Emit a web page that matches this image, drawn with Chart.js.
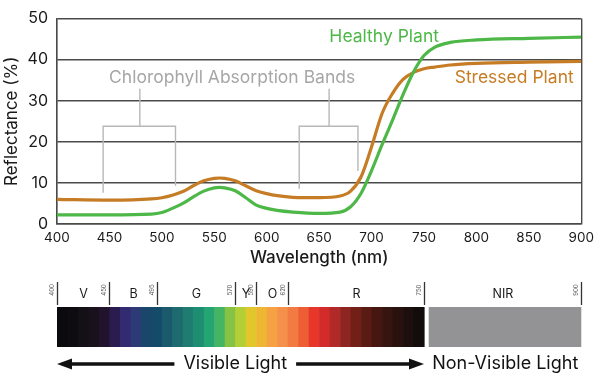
<!DOCTYPE html>
<html>
<head>
<meta charset="utf-8">
<script src="https://cdn.jsdelivr.net/npm/chart.js@4.4.1/dist/chart.umd.min.js"></script>
<style>
  html, body { margin: 0; padding: 0; background: #fff; }
  canvas { display: block; }
</style>
</head>
<body>
<canvas id="chart" width="600" height="380"></canvas>
<script>
// Reflektanz-Kurven
const wavelengths = [400, 450, 490, 500, 510, 520, 530, 540, 550, 555, 560, 570, 580, 590, 600, 610, 625, 650, 670, 680, 690, 700, 710, 720, 730, 740, 750, 760, 775, 800, 850, 900];
const healthy  = [2.2, 2.2, 2.4, 2.8, 3.8, 5.0, 6.6, 8.0, 8.8, 8.9, 8.8, 8.1, 6.4, 4.6, 3.8, 3.3, 2.9, 2.6, 2.9, 4.2, 7.5, 13.0, 19.3, 25.3, 31.5, 37.0, 41.0, 43.0, 44.2, 44.8, 45.2, 45.5];
const stressed = [6.0, 5.8, 6.1, 6.4, 7.0, 7.9, 9.3, 10.5, 11.1, 11.2, 11.1, 10.5, 9.3, 8.1, 7.4, 6.9, 6.5, 6.4, 6.8, 8.0, 11.5, 18.8, 26.9, 31.8, 35.2, 36.9, 37.8, 38.2, 38.7, 39.1, 39.4, 39.6];

// Klammern "Chlorophyll Absorption Bands"
const bracketLeftX  = [444, 444, 479, 479, 479, 513, 513];
const bracketLeftY  = [7.6, 23.8, 23.8, 32.9, 23.8, 23.8, 9.3];
const bracketRightX = [631, 631, 659.5, 659.5, 659.5, 687, 687];
const bracketRightY = [8.6, 23.8, 23.8, 32.9, 23.8, 23.8, 12.9];

// Spektrum-Leiste
const bandStarts = [400, 410, 420, 430, 440, 450, 460, 470, 480, 490, 500, 510, 520, 530, 540, 550, 560, 570, 580, 590, 600, 610, 620, 630, 640, 650, 660, 670, 680, 690, 700, 710, 720, 730, 740];
const bandColors = [
  "#0b0a0e", "#0e0c11", "#131116", "#19121d", "#21132c", "#2a1c4e", "#322b72", "#2e3a76", "#1b466c", "#134b69",
  "#1a5a6c", "#1e6b6f", "#1e7c70", "#1e8e72", "#25a574", "#45b565", "#86c244", "#b4cf36", "#e2c72c", "#efb634",
  "#f4a243", "#f4904a", "#f17b40", "#ed5e34", "#e6372a", "#d22b29", "#b12928", "#8e2523", "#721f18", "#5a1b12",
  "#461710", "#36140f", "#29120e", "#1c0f0e", "#120c0c"
];
const visibleEnd = 750;
const nirRange = [754.5, 900];
const spectrumTicks = [400, 450, 495, 570, 590, 620, 750, 900];
const spectrumNames = ["V", "B", "G", "Y", "O", "R", "NIR"];

const FONT = "Inter";
const GREEN = "#4db847";
const ORANGE = "#c67c24";
const AXIS = "#4a4a4a";

function pts(xs, ys) {
  return xs.map((x, i) => ({ x: x, y: ys[i] }));
}

function arrowHead(ctx, tipX, y, dir) {
  ctx.beginPath();
  ctx.moveTo(tipX, y);
  ctx.lineTo(tipX - dir * 15, y - 5.5);
  ctx.lineTo(tipX - dir * 15, y + 5.5);
  ctx.closePath();
  ctx.fill();
}

// Texte im Diagramm
const labelPlugin = {
  id: "labels",
  afterDatasetsDraw(chart) {
    const { ctx, scales: { x, y } } = chart;
    ctx.save();
    ctx.textAlign = "center";
    ctx.textBaseline = "middle";
    ctx.font = `17.5px ${FONT}`;
    ctx.fillStyle = "#a6a6a6";
    ctx.fillText("Chlorophyll Absorption Bands", x.getPixelForValue(567), y.getPixelForValue(35.7));
    ctx.fillStyle = GREEN;
    ctx.fillText("Healthy Plant", x.getPixelForValue(712), y.getPixelForValue(45.7));
    ctx.fillStyle = ORANGE;
    ctx.fillText("Stressed Plant", x.getPixelForValue(836), y.getPixelForValue(35.5));
    ctx.restore();
  }
};

// Spektrum unter dem Diagramm
const spectrumPlugin = {
  id: "spectrum",
  afterDraw(chart) {
    const { ctx } = chart;
    const x = chart.scales.x;
    const top = 307, h = 40;
    ctx.save();

    bandStarts.forEach((w, i) => {
      const x0 = x.getPixelForValue(w);
      const x1 = x.getPixelForValue(i < bandStarts.length - 1 ? bandStarts[i + 1] : visibleEnd);
      ctx.fillStyle = bandColors[i];
      ctx.fillRect(x0, top, x1 - x0 + 0.6, h);
    });
    const n0 = x.getPixelForValue(nirRange[0]);
    const n1 = x.getPixelForValue(nirRange[1]);
    ctx.fillStyle = "#939396";
    ctx.fillRect(n0, top, n1 - n0, h);

    // Markierungen + kleine Zahlen
    const tickPx = spectrumTicks.map(t => Math.round(x.getPixelForValue(t)) + 0.5);
    ctx.strokeStyle = "#333";
    ctx.lineWidth = 1.3;
    tickPx.forEach((px, i) => {
      ctx.beginPath();
      ctx.moveTo(px, 282);
      ctx.lineTo(px, 305);
      ctx.stroke();
      ctx.save();
      ctx.translate(px - 5, 290);
      ctx.rotate(-Math.PI / 2);
      ctx.font = `6px ${FONT}`;
      ctx.fillStyle = "#555";
      ctx.textAlign = "center";
      ctx.textBaseline = "middle";
      ctx.fillText(String(spectrumTicks[i]), 0, 0);
      ctx.restore();
    });

    ctx.font = `12.5px ${FONT}`;
    ctx.fillStyle = "#1a1a1a";
    ctx.textAlign = "center";
    ctx.textBaseline = "middle";
    spectrumNames.forEach((name, i) => {
      ctx.fillText(name, (tickPx[i] + tickPx[i + 1]) / 2, 294);
    });

    // Pfeile
    const ay = 364;
    ctx.font = `18px ${FONT}`;
    ctx.fillStyle = "#111";
    ctx.strokeStyle = "#111";
    ctx.lineWidth = 3.5;
    const vc = x.getPixelForValue(570);
    const vw = ctx.measureText("Visible Light").width;
    ctx.fillText("Visible Light", vc, ay);
    const leftTip = x.getPixelForValue(400);
    const rightTip = x.getPixelForValue(visibleEnd);
    ctx.beginPath();
    ctx.moveTo(leftTip + 12, ay);
    ctx.lineTo(vc - vw / 2 - 9, ay);
    ctx.moveTo(vc + vw / 2 + 9, ay);
    ctx.lineTo(rightTip - 12, ay);
    ctx.stroke();
    arrowHead(ctx, leftTip, ay, -1);
    arrowHead(ctx, rightTip, ay, 1);
    ctx.fillText("Non-Visible Light", x.getPixelForValue(827.5), ay);

    ctx.restore();
  }
};

new Chart(document.getElementById("chart"), {
  type: "line",
  data: {
    datasets: [
      {
        label: "Healthy Plant",
        data: pts(wavelengths, healthy),
        borderColor: GREEN,
        borderWidth: 3.2,
        pointRadius: 0,
        cubicInterpolationMode: "monotone"
      },
      {
        label: "Stressed Plant",
        data: pts(wavelengths, stressed),
        borderColor: ORANGE,
        borderWidth: 3.2,
        pointRadius: 0,
        cubicInterpolationMode: "monotone"
      },
      {
        label: "bracket1",
        data: pts(bracketLeftX, bracketLeftY),
        borderColor: "#b8b8b8",
        borderWidth: 1.4,
        pointRadius: 0,
        tension: 0
      },
      {
        label: "bracket2",
        data: pts(bracketRightX, bracketRightY),
        borderColor: "#b8b8b8",
        borderWidth: 1.4,
        pointRadius: 0,
        tension: 0
      }
    ]
  },
  options: {
    responsive: false,
    animation: false,
    devicePixelRatio: 1,
    layout: { padding: { top: 14, right: 17, left: 0, bottom: 0 } },
    plugins: {
      legend: { display: false },
      tooltip: { enabled: false }
    },
    scales: {
      x: {
        type: "linear",
        min: 400,
        max: 900,
        ticks: { stepSize: 50, padding: 6, color: "#1a1a1a", font: { family: FONT, size: 13.5 } },
        grid: {
          drawTicks: false,
          lineWidth: 1.4,
          color: c => (c.tick && (c.tick.value === 400 || c.tick.value === 900)) ? AXIS : "rgba(0,0,0,0)"
        },
        border: { color: AXIS, width: 1.4 },
        title: {
          display: true,
          text: "Wavelength (nm)",
          color: "#1a1a1a",
          font: { family: FONT, size: 17, weight: "500" },
          padding: { top: 0, bottom: 112 }
        },
        afterFit: s => { s.height = 156; }
      },
      y: {
        min: 0,
        max: 50,
        ticks: { stepSize: 10, padding: 9, color: "#1a1a1a", font: { family: FONT, size: 16 } },
        grid: { drawTicks: false, lineWidth: 1.4, color: AXIS },
        border: { color: AXIS, width: 1.4 },
        title: {
          display: true,
          text: "Reflectance (%)",
          color: "#1a1a1a",
          font: { family: FONT, size: 17 },
          padding: { top: 2, bottom: 0 }
        },
        afterFit: s => { s.width = 57; }
      }
    }
  },
  plugins: [labelPlugin, spectrumPlugin]
});
</script>
</body>
</html>
